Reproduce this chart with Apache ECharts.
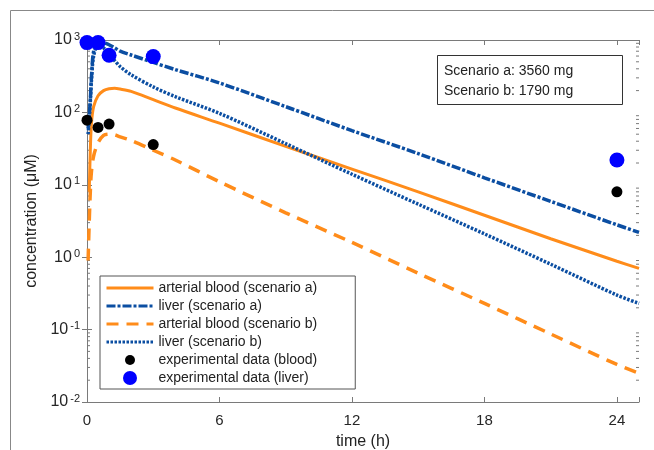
<!DOCTYPE html>
<html>
<head>
<meta charset="utf-8">
<script src="https://cdn.jsdelivr.net/npm/echarts@6/dist/echarts.min.js"></script>
<style>
	html, body { margin: 0; padding: 0; background: #fff; }
	#chart { width: 654px; height: 450px; }
</style>
</head>
<body>
<div id="chart"></div>
<script>
	'use strict'
	/*----data----*/
	var timeH = [0.05, 0.1, 0.15, 0.2, 0.3, 0.5, 0.75, 1, 1.25, 1.5, 2, 3, 4, 6, 9, 12, 15, 18, 21, 24, 25];
	var arterialA = [null, 8, 30, 70, 120, 170, 200, 212, 215, 210, 195, 150, 115, 71, 34, 16.5, 8, 3.8, 1.8, 0.88, 0.70];
	var liverA = [60, 90, 150, 300, 700, 960, 920, 860, 780, 700, 620, 490, 390, 255, 120, 56, 27, 12.5, 5.9, 2.8, 2.2];
	var arterialB = [0.9, 3, 8, 15, 25, 38, 48, 50, 49, 46, 41, 30, 22, 11, 4.1, 1.6, 0.6, 0.23, 0.087, 0.033, 0.025];
	var liverB = [50, 80, 140, 270, 600, 850, 780, 640, 520, 430, 330, 225, 165, 97, 37, 14, 5.4, 2.1, 0.8, 0.3, 0.23];
	var expTime = [0, 0.5, 1, 3, 24];
	var expBlood = [78, 62, 69, 36, 8];
	var expLiver = [920, 920, 615, 590, 22];
	var xTicks = [0, 6, 12, 18, 24];
	var minorTicks = [];
	[0.01, 0.1, 1, 10, 100].forEach(function(d) {
		for (var k = 2; k <= 9; k++) minorTicks.push(d * k);
	});

	function pairs(t, v) {
		return t.map(function(x, i) { return [x, v[i]]; });
	}

	var orange = '#ff8c1a';
	var navy = '#0b4ea2';
	var axisGray = '#7a7a7a';
	var font = 'Liberation Sans, Arial, sans-serif';
	// small dot inside a bigger invisible box so it draws smaller in the legend
	var smallDot = 'path://M0,0M14,14M2,7a5,5 0 1,0 10,0a5,5 0 1,0 -10,0Z';

	var chart = echarts.init(document.getElementById('chart'));
	var option = {
		animation: false,
		textStyle: { fontFamily: font },
		grid: {
			left: 87,
			top: 40,
			right: 15,
			bottom: 48,
			outerBoundsMode: 'none'
		},
		graphic: [{
			type: 'rect',
			shape: { x: 10.5, y: 10.5, width: 700, height: 500 },
			style: { fill: 'none', stroke: '#888', lineWidth: 1 },
			silent: true
		}, {
			type: 'rect',
			shape: { x: 437.5, y: 55.5, width: 185, height: 49 },
			style: { fill: '#fff', stroke: '#333', lineWidth: 1 },
			z: 100
		}, {
			type: 'text',
			left: 444,
			top: 64,
			z: 101,
			style: { text: 'Scenario a: 3560 mg', font: '14px ' + font, fill: '#222' }
		}, {
			type: 'text',
			left: 444,
			top: 84,
			z: 101,
			style: { text: 'Scenario b: 1790 mg', font: '14px ' + font, fill: '#222' }
		}],
		legend: {
			orient: 'vertical',
			left: 100,
			top: 276,
			padding: [5, 38, 4, 5],
			backgroundColor: '#fff',
			borderColor: '#555',
			borderWidth: 1,
			itemWidth: 47,
			itemHeight: 14,
			itemGap: 4,
			itemTextGap: 4,
			lineStyle: { width: 3 },
			textStyle: { fontSize: 14, color: '#222', fontFamily: font },
			data: [
				{ name: 'arterial blood (scenario a)', itemStyle: { opacity: 0 } },
				{ name: 'liver (scenario a)', itemStyle: { opacity: 0 } },
				{ name: 'arterial blood (scenario b)', itemStyle: { opacity: 0 } },
				{ name: 'liver (scenario b)', itemStyle: { opacity: 0 } },
				{ name: 'experimental data (blood)', icon: smallDot },
				{ name: 'experimental data (liver)', icon: 'circle' }
			]
		},
		xAxis: [{
			type: 'value',
			min: 0,
			max: 25,
			interval: 6,
			name: 'time (h)',
			nameLocation: 'middle',
			nameGap: 32,
			nameTextStyle: { fontSize: 16, color: '#222', fontFamily: font },
			axisLine: { lineStyle: { color: axisGray } },
			axisTick: { inside: true, length: 5, lineStyle: { color: axisGray } },
			axisLabel: {
				fontSize: 15,
				color: '#262626',
				margin: 11,
				formatter: function(v) { return xTicks.indexOf(v) >= 0 ? String(v) : ''; }
			},
			splitLine: { show: false }
		}, {
			type: 'value',
			position: 'top',
			min: 0,
			max: 25,
			interval: 6,
			axisLine: { lineStyle: { color: axisGray } },
			axisTick: { inside: true, length: 5, lineStyle: { color: axisGray } },
			axisLabel: { show: false },
			splitLine: { show: false }
		}],
		yAxis: [{
			type: 'log',
			logBase: 10,
			min: 0.01,
			max: 1000,
			name: 'concentration (\u03bcM)',
			nameLocation: 'middle',
			nameGap: 44,
			nameTextStyle: { fontSize: 16, color: '#222', fontFamily: font },
			axisLine: { show: true, lineStyle: { color: axisGray } },
			axisTick: { show: true, inside: true, length: 5, lineStyle: { color: axisGray } },
			axisLabel: {
				margin: 7,
				color: '#262626',
				formatter: function(v) {
					return '{b|10}{s|' + Math.round(Math.log10(v)) + '}';
				},
				rich: {
					b: { fontSize: 16, color: '#262626', fontFamily: font },
					s: { fontSize: 11, color: '#262626', fontFamily: font, padding: [0, 0, 7, 2] }
				}
			},
			splitLine: { show: false }
		}, {
			type: 'log',
			logBase: 10,
			position: 'right',
			min: 0.01,
			max: 1000,
			axisLine: { show: true, lineStyle: { color: axisGray } },
			axisTick: { show: true, inside: true, length: 5, lineStyle: { color: axisGray } },
			axisLabel: { show: false },
			splitLine: { show: false }
		}],
		series: [{
			name: 'arterial blood (scenario a)',
			type: 'line',
			symbol: 'none',
			smooth: 0.3,
			data: pairs(timeH, arterialA),
			lineStyle: { color: orange, width: 3 },
			itemStyle: { color: orange },
			z: 3
		}, {
			name: 'liver (scenario a)',
			type: 'line',
			symbol: 'none',
			smooth: 0.3,
			data: pairs(timeH, liverA),
			lineStyle: { color: navy, width: 3.5, type: [9, 2, 3, 2] },
			itemStyle: { color: navy },
			z: 3
		}, {
			name: 'arterial blood (scenario b)',
			type: 'line',
			symbol: 'none',
			smooth: 0.3,
			data: pairs(timeH, arterialB),
			lineStyle: { color: orange, width: 3.5, type: [12, 8] },
			itemStyle: { color: orange },
			z: 3
		}, {
			name: 'liver (scenario b)',
			type: 'line',
			symbol: 'none',
			smooth: 0.3,
			data: pairs(timeH, liverB),
			lineStyle: { color: navy, width: 3.5, type: [2.5, 1.5] },
			itemStyle: { color: navy },
			z: 3
		}, {
			name: 'experimental data (blood)',
			type: 'scatter',
			symbol: 'circle',
			symbolSize: 11,
			data: pairs(expTime, expBlood),
			itemStyle: { color: '#000', opacity: 1 },
			z: 5
		}, {
			name: 'experimental data (liver)',
			type: 'scatter',
			symbol: 'circle',
			symbolSize: 15,
			data: pairs(expTime, expLiver),
			itemStyle: { color: '#0000ff', opacity: 1 },
			z: 5
		}, {
			name: 'minor ticks',
			type: 'custom',
			silent: true,
			data: minorTicks.map(function(v) { return [0, v]; }),
			renderItem: function(params, api) {
				var y = api.coord([0, api.value(1)])[1];
				var cs = params.coordSys;
				return {
					type: 'group',
					children: [{
						type: 'line',
						shape: { x1: cs.x, y1: y, x2: cs.x + 3, y2: y },
						style: { stroke: axisGray, lineWidth: 1 }
					}, {
						type: 'line',
						shape: { x1: cs.x + cs.width - 3, y1: y, x2: cs.x + cs.width, y2: y },
						style: { stroke: axisGray, lineWidth: 1 }
					}]
				};
			},
			z: 1
		}]
	};
	chart.setOption(option);
</script>
</body>
</html>
